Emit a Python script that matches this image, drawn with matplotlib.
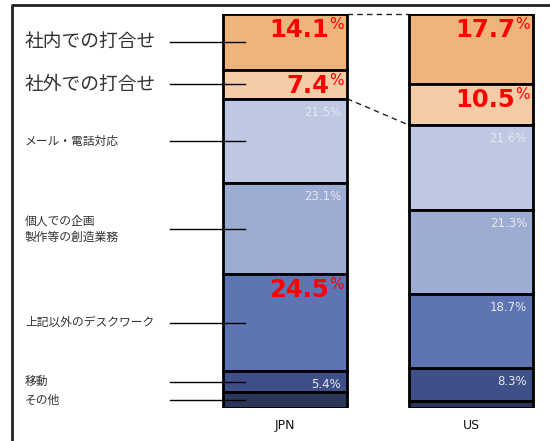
import matplotlib
matplotlib.use('Agg')
import matplotlib.pyplot as plt
import matplotlib.transforms as mtrans
import numpy as np

plt.rcParams['font.family'] = ['Noto Sans CJK JP', 'DejaVu Sans']

# data: segments listed top to bottom
categories = ['社内での打合せ', '社外での打合せ', 'メール・電話対応',
              '個人での企画\n製作等の創造業務', '上記以外のデスクワーク', '移動', 'その他']
jpn = [14.1, 7.4, 21.5, 23.1, 24.5, 5.4, 4.0]
us = [17.7, 10.5, 21.6, 21.3, 18.7, 8.3, 1.9]
countries = ['JPN', 'US']
jpn_red = [0, 1, 4]
us_red = [0, 1]
big_label = [True, True, False, False, False, False, False]
colors = ['#EFB47B', '#F5CCA6', '#BFC8E2', '#9DACD2', '#5F74B3', '#3F5088', '#2B3659']

W, H = 550, 441
fig = plt.figure(figsize=(W / 100, H / 100), dpi=100)

# bar area: y 0..100 maps to pixel rows 408..14
ax = fig.add_axes([0, (H - 408) / H, 1, (408 - 14) / H])
ax.set_xlim(0, W)
ax.set_ylim(0, 100)
ax.axis('off')

xpos = [285, 471]
bw = 124
series = [jpn, us]
reds = [jpn_red, us_red]

tops = []
for k, (xi, vals, red) in enumerate(zip(xpos, series, reds)):
    vals = np.array(vals)
    top = 100 - np.concatenate([[0], np.cumsum(vals)[:-1]])
    bottom = top - vals
    ax.bar([xi] * len(vals), vals, bottom=bottom, width=bw, color=colors,
           edgecolor='black', linewidth=2, zorder=2)
    tops.append((top, bottom))
    xr = xi + bw / 2
    for i, v in enumerate(vals):
        if i in red:
            tr = mtrans.offset_copy(ax.transData, fig=fig, x=-18, y=-4, units='dots')
            ax.text(xr, top[i], f'{v:.1f}', transform=tr, ha='right', va='top',
                    color='#FF0000', fontsize=17.5, fontweight='bold',
                    family='DejaVu Sans', zorder=5)
            tr2 = mtrans.offset_copy(ax.transData, fig=fig, x=-18, y=-3, units='dots')
            ax.text(xr, top[i], '%', transform=tr2, ha='left', va='top',
                    color='#FF0000', fontsize=11, family='DejaVu Sans', zorder=5)
        elif i < len(vals) - 1:
            tr = mtrans.offset_copy(ax.transData, fig=fig, x=-6, y=-7, units='dots')
            ax.text(xr, top[i], f'{v:.1f}%', transform=tr, ha='right', va='top',
                    color='#E6E8F0', fontsize=8.5, family='DejaVu Sans', zorder=5)
    ax.text(xi, -4.5, countries[k], ha='center', va='center', fontsize=9,
            family='DejaVu Sans', color='#111111', clip_on=False)

# category labels with leader lines (JPN segment centres)
jtop, jbot = tops[0]
for i, name in enumerate(categories):
    yc = (jtop[i] + jbot[i]) / 2
    ax.plot([170, 245], [yc, yc], color='black', lw=1, zorder=4, clip_on=False)
    ax.text(25, yc, name, ha='left', va='center',
            fontsize=13.5 if big_label[i] else 8.5, color='#333333',
            linespacing=1.3, clip_on=False)

# dashed connectors
utop, ubot = tops[1]
ax.plot([xpos[0] + bw / 2, xpos[1] - bw / 2], [100, 100], color='#222222',
        lw=1, ls=(0, (4, 3)), zorder=1, clip_on=False)
ax.plot([xpos[0] + bw / 2, xpos[1] - bw / 2], [jbot[1], ubot[1]], color='#222222',
        lw=1, ls=(0, (4, 3)), zorder=1, clip_on=False)

# outer frame (left and top edges visible)
frame = fig.add_axes([0, 0, 1, 1], zorder=-1)
frame.set_xlim(0, W)
frame.set_ylim(H, 0)
frame.axis('off')
frame.plot([11.5, 11.5, W + 5], [H + 5, 5, 5], color='#222222', lw=2)

fig.savefig('out.png', dpi=100)
